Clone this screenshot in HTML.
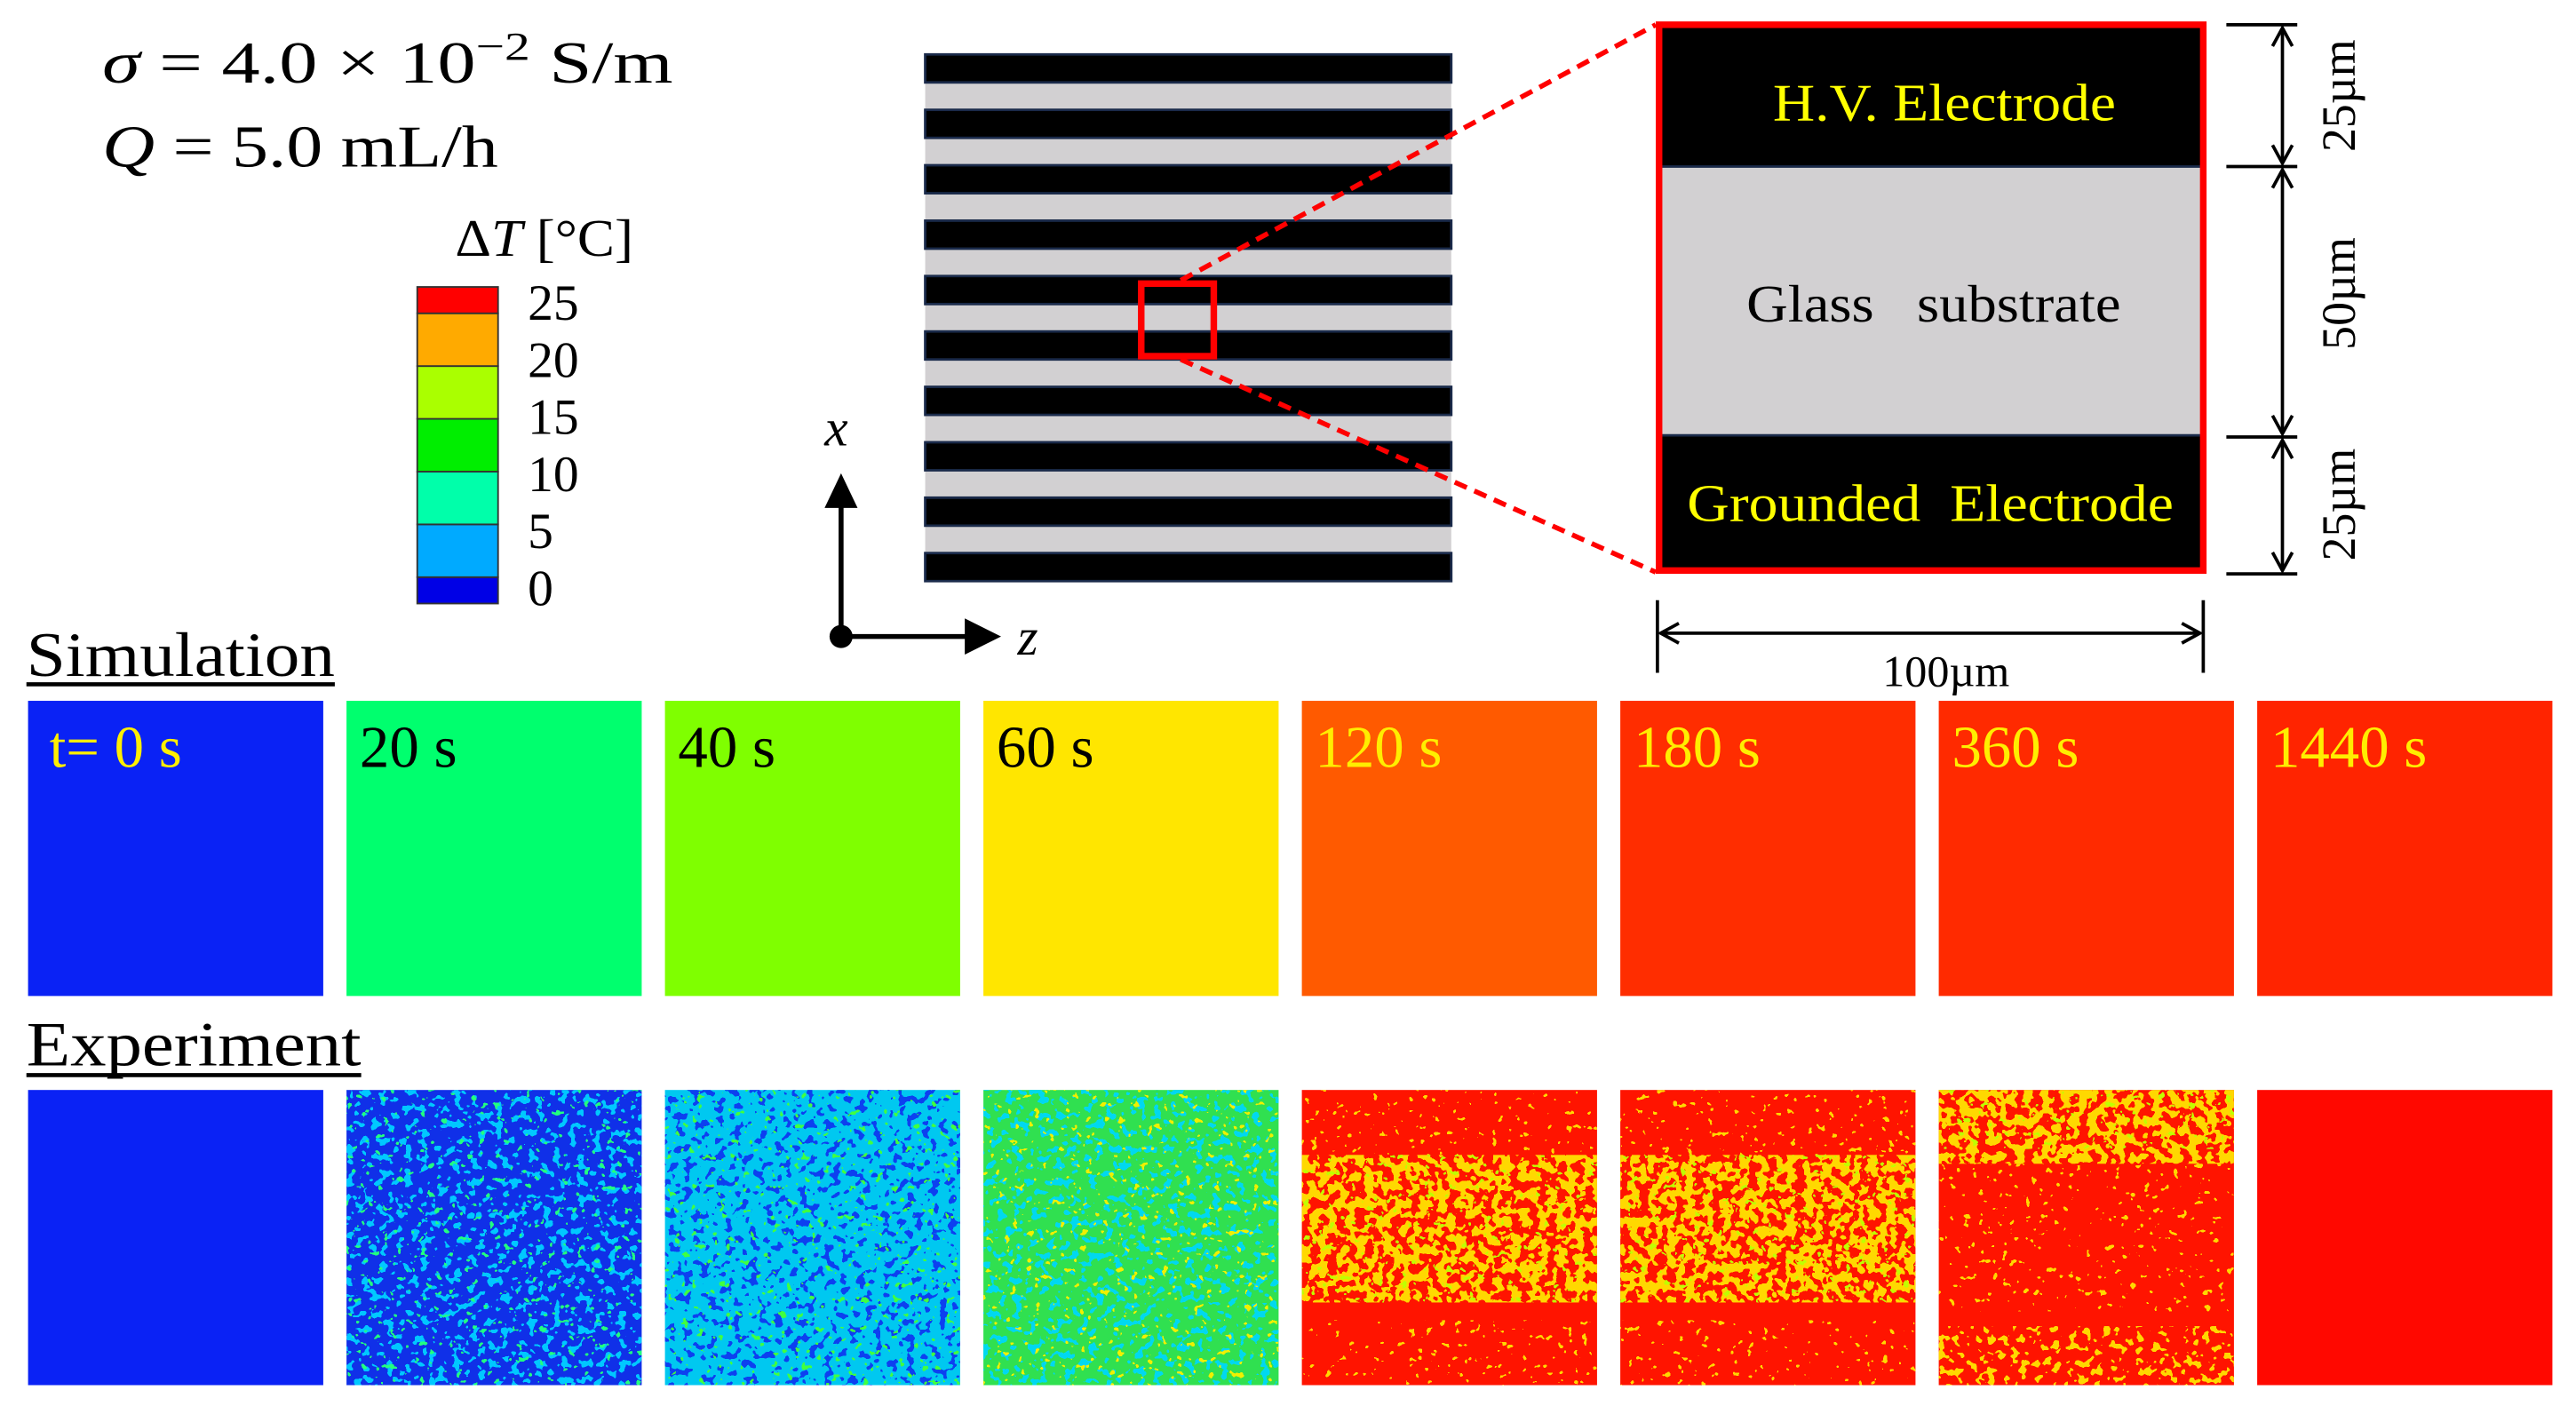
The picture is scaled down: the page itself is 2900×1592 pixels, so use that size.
<!DOCTYPE html>
<html><head><meta charset="utf-8"><title>Thermal field comparison</title>
<style>
html,body{margin:0;padding:0;background:#fff;}
svg{display:block;font-family:"Liberation Serif",serif;}
</style></head>
<body>
<svg id="fig" width="2900" height="1592" viewBox="0 0 1562 857.5" xmlns="http://www.w3.org/2000/svg">
<defs>
  <filter id="nz1" x="0" y="0" width="1" height="1"><feTurbulence type="fractalNoise" baseFrequency="0.18" numOctaves="2" seed="3"/><feColorMatrix type="matrix" values="0 0 0 0 0  0 0 0 0 0  0 0 0 0 0  1 0 0 0 0"/><feComponentTransfer><feFuncA type="discrete" tableValues="0 0 0 0 0 1 1 1 1 1"/></feComponentTransfer><feComposite in="SourceGraphic" operator="in"/></filter>
  <filter id="nz2" x="0" y="0" width="1" height="1"><feTurbulence type="fractalNoise" baseFrequency="0.2" numOctaves="2" seed="11"/><feColorMatrix type="matrix" values="0 0 0 0 0  0 0 0 0 0  0 0 0 0 0  1 0 0 0 0"/><feComponentTransfer><feFuncA type="discrete" tableValues="0 0 0 0 0 0 1 1 1 1"/></feComponentTransfer><feComposite in="SourceGraphic" operator="in"/></filter>
  <filter id="nz3" x="0" y="0" width="1" height="1"><feTurbulence type="fractalNoise" baseFrequency="0.22" numOctaves="2" seed="27"/><feColorMatrix type="matrix" values="0 0 0 0 0  0 0 0 0 0  0 0 0 0 0  1 0 0 0 0"/><feComponentTransfer><feFuncA type="discrete" tableValues="0 0 0 0 0 0 0 1 1 1"/></feComponentTransfer><feComposite in="SourceGraphic" operator="in"/></filter>
</defs>

<g font-size="36" fill="#000">
  <text x="62" y="50" textLength="346" lengthAdjust="spacingAndGlyphs"><tspan font-style="italic">σ</tspan> = 4.0 × 10<tspan dy="-14" font-size="24">−2</tspan><tspan dy="14"> S/m</tspan></text>
  <text x="62" y="101" textLength="240" lengthAdjust="spacingAndGlyphs"><tspan font-style="italic">Q</tspan> = 5.0 mL/h</text>
</g>

<g id="colorbar">
  <text x="276" y="155" font-size="32" textLength="108" lengthAdjust="spacingAndGlyphs">Δ<tspan font-style="italic">T</tspan> [°C]</text>
</g>

<g id="stripes"></g>
<rect x="692" y="172" width="44" height="44" fill="none" stroke="#ff0000" stroke-width="4"/>
<line x1="716" y1="170" x2="1004" y2="15" stroke="#ff0000" stroke-width="3" stroke-dasharray="8,5"/>
<line x1="716" y1="218" x2="1004" y2="347" stroke="#ff0000" stroke-width="3" stroke-dasharray="8,5"/>

<g>
  <rect x="1006" y="15" width="330" height="331" fill="#000"/>
  <rect x="1006" y="101" width="330" height="163" fill="#d2d0d2" stroke="#1a2a4a" stroke-width="1.5"/>
  <rect x="1006" y="15" width="330" height="331" fill="none" stroke="#ff0000" stroke-width="4"/>
  <text x="1075" y="73" font-size="32" fill="#ffff00" textLength="208" lengthAdjust="spacingAndGlyphs">H.V. Electrode</text>
  <text x="1059" y="195" font-size="32" fill="#000" textLength="227" lengthAdjust="spacingAndGlyphs" xml:space="preserve">Glass   substrate</text>
  <text x="1023" y="316" font-size="32" fill="#ffff00" textLength="295" lengthAdjust="spacingAndGlyphs" xml:space="preserve">Grounded  Electrode</text>
</g>

<g stroke="#000" stroke-width="2" fill="none">
  <line x1="1350" y1="15" x2="1393" y2="15"/><line x1="1350" y1="101" x2="1393" y2="101"/>
  <line x1="1350" y1="265" x2="1393" y2="265"/><line x1="1350" y1="348" x2="1393" y2="348"/>
  <line x1="1384" y1="18" x2="1384" y2="98"/><line x1="1384" y1="104" x2="1384" y2="262"/><line x1="1384" y1="268" x2="1384" y2="345"/>
  <path d="M1378 28 L1384 17 L1390 28 M1378 88 L1384 99 L1390 88 M1378 114 L1384 103 L1390 114 M1378 252 L1384 263 L1390 252 M1378 278 L1384 267 L1390 278 M1378 335 L1384 346 L1390 335"/>
  <line x1="1005" y1="364" x2="1005" y2="408"/><line x1="1336" y1="364" x2="1336" y2="408"/>
  <line x1="1008" y1="384" x2="1333" y2="384"/>
  <path d="M1018 378 L1007 384 L1018 390 M1323 378 L1334 384 L1323 390"/>
</g>
<g font-size="29" fill="#000">
  <text transform="translate(1428,58) rotate(-90)" text-anchor="middle">25µm</text>
  <text transform="translate(1428,178) rotate(-90)" text-anchor="middle">50µm</text>
  <text transform="translate(1428,306) rotate(-90)" text-anchor="middle">25µm</text>
  <text x="1180" y="416" text-anchor="middle" font-size="27">100µm</text>
</g>

<g>
  <line x1="510" y1="386" x2="510" y2="305" stroke="#000" stroke-width="3"/>
  <path d="M500 308 L510 287 L520 308 Z" fill="#000"/>
  <line x1="510" y1="386" x2="588" y2="386" stroke="#000" stroke-width="3"/>
  <path d="M585 375 L607 386 L585 397 Z" fill="#000"/>
  <circle cx="510" cy="386" r="7" fill="#000"/>
  <text x="500" y="270" font-size="32" font-style="italic">x</text>
  <text x="617" y="397" font-size="32" font-style="italic">z</text>
</g>

<text x="16" y="410" font-size="38" textLength="187" lengthAdjust="spacingAndGlyphs">Simulation</text>
<line x1="16" y1="415" x2="203" y2="415" stroke="#000" stroke-width="2.5"/>
<text x="16" y="646" font-size="38" textLength="203" lengthAdjust="spacingAndGlyphs">Experiment</text>
<line x1="16" y1="652" x2="219" y2="652" stroke="#000" stroke-width="2.5"/>

<g id="sim"></g>
<g id="exp"></g>
</svg>

<script>
var NS = "http://www.w3.org/2000/svg";
var cbTicks = [25, 20, 15, 10, 5, 0];
var cbBounds = [-2.5, 0, 5, 10, 15, 20, 25, 27.5];
var cbColors = ["#0000e6", "#00aaff", "#00ffaa", "#00ee00", "#aaff00", "#ffaa00", "#ff0000"];
var timeLabels = ["t= 0 s", "20 s", "40 s", "60 s", "120 s", "180 s", "360 s", "1440 s"];
var simColors = ["#0a22f5", "#00ff6e", "#7fff00", "#ffe600", "#ff5a00", "#ff2d00", "#ff2a00", "#ff2400"];
var labelColors = ["#ffee00", "#000", "#000", "#000", "#ffee00", "#ffee00", "#ffee00", "#ffee00"];
var expBase = ["#0a22f5", "#1030e8", "#00c8f0", "#30e050", "#ff1400", "#ff1400", "#ff1400", "#ff0800"];
var expMid = ["none", "#00c8ff", "#1040f0", "#00d8f0", "#ffd800", "#ffd800", "#ffd800", "none"];
var expHi = ["none", "#20ff80", "#40ff40", "#f0f000", "#c0ff00", "#c0ff00", "#c0ff00", "none"];
var stripeCount = 10;

function el(tag, attrs, parent){ var e=document.createElementNS(NS,tag); for(var k in attrs){ e.setAttribute(k,attrs[k]); } parent.appendChild(e); return e; }

var cbG = document.getElementById("colorbar");
var cbX=253, cbW=49, cbTop=174, cbBot=366;
function cbY(v){ return cbBot - (v - cbBounds[0]) / (cbBounds[cbBounds.length-1] - cbBounds[0]) * (cbBot - cbTop); }
function labelY(v){ return 356 - v / 25 * 173; }
for (var i=0;i<cbColors.length;i++){
  var yTop = cbY(cbBounds[i+1]), yBot = cbY(cbBounds[i]);
  var r = el("rect",{x:cbX,y:yTop,width:cbW,height:yBot-yTop,fill:cbColors[i],stroke:"#333","stroke-width":"1"},cbG);
  
  
}
for (var j=0;j<cbTicks.length;j++){
  var t = el("text",{x:320,y:labelY(cbTicks[j])+11,"font-size":"31"},cbG);
  t.textContent = cbTicks[j];
  
  
}

var st = document.getElementById("stripes");
var sx=561, sw=319, sTop=33, period=33.6, bh=17;
el("rect",{x:sx,y:sTop,width:sw,height:period*(stripeCount-1)+bh,fill:"#d2d0d2"},st);
for (var s=0;s<stripeCount;s++){
  var b = el("rect",{x:sx,y:sTop+s*period,width:sw,height:bh,fill:"#000",stroke:"#1a2a4a","stroke-width":"1.5"},st);
  
  
}

var px0=17, pstep=193.1, pw=179, simY=425, expY=661, ph=179;
var simG=document.getElementById("sim"), expG=document.getElementById("exp");
for (var p=0;p<timeLabels.length;p++){
  var x = px0 + p*pstep;
  var r1 = el("rect",{x:x,y:simY,width:pw,height:ph,fill:simColors[p]},simG);
  
  
  var tl = el("text",{x:x+(p===0?13:8),y:simY+40,"font-size":"36",fill:labelColors[p]},simG);
  tl.textContent = timeLabels[p];
  
  

  var g = el("g",{},expG);
  
  
  el("rect",{x:x,y:expY,width:pw,height:ph,fill:expBase[p]},g);
  if (expMid[p]!=="none"){
    if (p===4 || p===5){
      el("rect",{x:x,y:expY,width:pw,height:ph*0.22,fill:expMid[p],filter:"url(#nz3)"},g);
      el("rect",{x:x,y:expY+ph*0.22,width:pw,height:ph*0.5,fill:expMid[p],filter:"url(#nz1)"},g);
      el("rect",{x:x,y:expY+ph*0.22,width:pw,height:ph*0.5,fill:expHi[p],filter:"url(#nz3)"},g);
      el("rect",{x:x,y:expY+ph*0.78,width:pw,height:ph*0.22,fill:expMid[p],filter:"url(#nz3)"},g);
    } else if (p===6){
      el("rect",{x:x,y:expY,width:pw,height:ph*0.25,fill:expMid[p],filter:"url(#nz1)"},g);
      el("rect",{x:x,y:expY,width:pw,height:ph*0.2,fill:expHi[p],filter:"url(#nz3)"},g);
      el("rect",{x:x,y:expY+ph*0.25,width:pw,height:ph*0.5,fill:expMid[p],filter:"url(#nz3)"},g);
      el("rect",{x:x,y:expY+ph*0.8,width:pw,height:ph*0.2,fill:expMid[p],filter:"url(#nz2)"},g);
    } else {
      el("rect",{x:x,y:expY,width:pw,height:ph,fill:expMid[p],filter:"url(#nz2)"},g);
      el("rect",{x:x,y:expY,width:pw,height:ph,fill:expHi[p],filter:"url(#nz3)"},g);
    }
  }
}
</script>
</body></html>
